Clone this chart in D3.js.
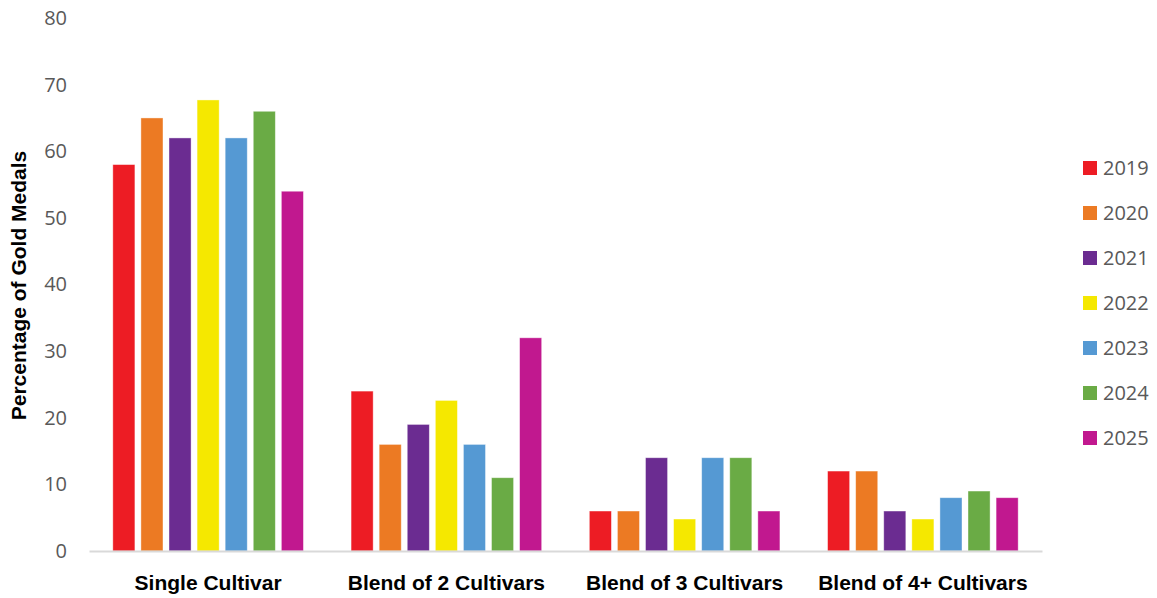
<!DOCTYPE html>
<html>
<head>
<meta charset="utf-8">
<script src="https://cdn.jsdelivr.net/npm/d3@7"></script>
<style>
    body { margin: 0; background: #fff; }
    .tick_lbl { font-family: "Open Sans", "Liberation Sans", sans-serif; }
    .cat_lbl { font-family: "Liberation Sans Narrow", "Arial Narrow", "Liberation Sans", sans-serif; font-weight: bold; }
</style>
</head>
<body>
<div id="container"><svg></svg></div>
<script>
let width = 1157;
let height = 598;

let categories = ['Single Cultivar', 'Blend of 2 Cultivars', 'Blend of 3 Cultivars', 'Blend of 4+ Cultivars'];
let years = ['2019', '2020', '2021', '2022', '2023', '2024', '2025'];
let colors = ['#ed1c24', '#ec7a23', '#6b2c91', '#f5e800', '#5599d3', '#6aab45', '#c1188f'];
// one array per category, values in year order
let single_cultivar = [58, 65, 62, 67.7, 62, 66, 54];
let blend_2 = [24, 16, 19, 22.6, 16, 11, 32];
let blend_3 = [6, 6, 14, 4.8, 14, 14, 6];
let blend_4 = [12, 12, 6, 4.8, 8, 9, 8];
let y_ticks = [0, 10, 20, 30, 40, 50, 60, 70, 80];

let series = [single_cultivar, blend_2, blend_3, blend_4];

function draw_main() {
    let padding = {'left': 89, 'right': 115, 'top': 18, 'bottom': 47};
    let svg = d3.select('#container').select('svg')
        .attr('width', width)
        .attr('height', height);

    let x0 = d3.scaleBand()
        .domain(categories)
        .range([padding.left, width - padding.right])
        .paddingInner(0.2)
        .paddingOuter(0.1);
    let x1 = d3.scaleBand()
        .domain(years)
        .range([0, x0.bandwidth()])
        .paddingInner(0.214)
        .paddingOuter(0);
    let y = d3.scaleLinear()
        .domain([0, 80])
        .range([height - padding.bottom, padding.top]);

    // y tick labels (no axis line)
    let axis_y = d3.axisLeft(y)
        .tickValues(y_ticks)
        .tickSize(0)
        .tickPadding(0)
        .tickFormat(d => d);
    let gy = svg.append('g')
        .attr('transform', `translate(${67}, 0)`)
        .call(axis_y);
    gy.select('.domain').remove();
    gy.selectAll('text')
        .attr('class', 'tick_lbl')
        .attr('fill', '#595959')
        .attr('font-size', '20px');

    // bars
    svg.append('g')
        .selectAll('g')
        .data(series)
        .enter().append('g')
        .attr('transform', (d, i) => `translate(${x0(categories[i])}, 0)`)
        .selectAll('rect')
        .data(d => d)
        .enter().append('rect')
        .attr('x', (d, i) => x1(years[i]))
        .attr('y', d => y(d))
        .attr('width', x1.bandwidth())
        .attr('height', d => y(0) - y(d))
        .attr('fill', (d, i) => colors[i])
        .attr('stroke', '#fff')
        .attr('stroke-opacity', 0.5)
        .attr('stroke-width', 0.8);

    // x axis line
    let axis_x = d3.axisBottom(x0).tickSize(0).tickPadding(24);
    let gx = svg.append('g')
        .attr('transform', `translate(0, ${y(0)})`)
        .call(axis_x);
    gx.select('.domain')
        .attr('stroke', '#d9d9d9')
        .attr('stroke-width', 2);
    gx.selectAll('text')
        .attr('class', 'cat_lbl')
        .attr('fill', '#000')
        .attr('font-size', '21px');

    // y axis title
    svg.append('text')
        .attr('class', 'cat_lbl')
        .attr('transform', `translate(${26}, ${(padding.top + height - padding.bottom) / 2 + 1}) rotate(-90)`)
        .attr('text-anchor', 'middle')
        .attr('font-size', '21px')
        .attr('fill', '#000')
        .text('Percentage of Gold Medals');

    // legend
    let legend = svg.append('g')
        .attr('transform', `translate(${1083}, ${161})`)
        .selectAll('g')
        .data(years)
        .enter().append('g')
        .attr('transform', (d, i) => `translate(0, ${i * 45})`);
    legend.append('rect')
        .attr('width', 14)
        .attr('height', 14)
        .attr('fill', (d, i) => colors[i]);
    legend.append('text')
        .attr('class', 'tick_lbl')
        .attr('x', 20)
        .attr('y', 7)
        .attr('dy', '0.36em')
        .attr('font-size', '20px')
        .attr('fill', '#595959')
        .text(d => d);
}

draw_main();
</script>
</body>
</html>
